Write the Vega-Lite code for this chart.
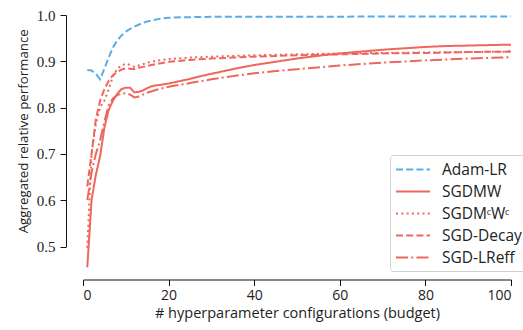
{
  "$schema": "https://vega.github.io/schema/vega-lite/v6.json",
  "width": 428,
  "height": 231.5,
  "autosize": {"type": "none"},
  "padding": {"left": 83, "top": 15, "right": 12, "bottom": 83.5},
  "background": "white",
  "datasets": {
    "curves": [
      {"method": "Adam-LR", "budget": 1, "perf": 0.881},
      {"method": "Adam-LR", "budget": 2, "perf": 0.880},
      {"method": "Adam-LR", "budget": 3, "perf": 0.873},
      {"method": "Adam-LR", "budget": 4, "perf": 0.861},
      {"method": "Adam-LR", "budget": 5, "perf": 0.884},
      {"method": "Adam-LR", "budget": 6, "perf": 0.908},
      {"method": "Adam-LR", "budget": 7, "perf": 0.930},
      {"method": "Adam-LR", "budget": 8, "perf": 0.945},
      {"method": "Adam-LR", "budget": 9, "perf": 0.956},
      {"method": "Adam-LR", "budget": 10, "perf": 0.964},
      {"method": "Adam-LR", "budget": 11, "perf": 0.970},
      {"method": "Adam-LR", "budget": 12, "perf": 0.975},
      {"method": "Adam-LR", "budget": 13, "perf": 0.979},
      {"method": "Adam-LR", "budget": 14, "perf": 0.983},
      {"method": "Adam-LR", "budget": 15, "perf": 0.986},
      {"method": "Adam-LR", "budget": 16, "perf": 0.988},
      {"method": "Adam-LR", "budget": 17, "perf": 0.990},
      {"method": "Adam-LR", "budget": 18, "perf": 0.992},
      {"method": "Adam-LR", "budget": 20, "perf": 0.994},
      {"method": "Adam-LR", "budget": 23, "perf": 0.995},
      {"method": "Adam-LR", "budget": 30, "perf": 0.996},
      {"method": "Adam-LR", "budget": 50, "perf": 0.996},
      {"method": "Adam-LR", "budget": 75, "perf": 0.997},
      {"method": "Adam-LR", "budget": 100, "perf": 0.997},

      {"method": "SGDMW", "budget": 1, "perf": 0.455},
      {"method": "SGDMW", "budget": 2, "perf": 0.600},
      {"method": "SGDMW", "budget": 3, "perf": 0.655},
      {"method": "SGDMW", "budget": 4, "perf": 0.695},
      {"method": "SGDMW", "budget": 5, "perf": 0.757},
      {"method": "SGDMW", "budget": 6, "perf": 0.795},
      {"method": "SGDMW", "budget": 7, "perf": 0.815},
      {"method": "SGDMW", "budget": 8, "perf": 0.830},
      {"method": "SGDMW", "budget": 9, "perf": 0.840},
      {"method": "SGDMW", "budget": 10, "perf": 0.843},
      {"method": "SGDMW", "budget": 11, "perf": 0.843},
      {"method": "SGDMW", "budget": 12, "perf": 0.833},
      {"method": "SGDMW", "budget": 13, "perf": 0.834},
      {"method": "SGDMW", "budget": 14, "perf": 0.837},
      {"method": "SGDMW", "budget": 15, "perf": 0.842},
      {"method": "SGDMW", "budget": 16, "perf": 0.846},
      {"method": "SGDMW", "budget": 17, "perf": 0.848},
      {"method": "SGDMW", "budget": 18, "perf": 0.849},
      {"method": "SGDMW", "budget": 20, "perf": 0.852},
      {"method": "SGDMW", "budget": 22, "perf": 0.856},
      {"method": "SGDMW", "budget": 25, "perf": 0.862},
      {"method": "SGDMW", "budget": 28, "perf": 0.869},
      {"method": "SGDMW", "budget": 32, "perf": 0.877},
      {"method": "SGDMW", "budget": 36, "perf": 0.885},
      {"method": "SGDMW", "budget": 40, "perf": 0.892},
      {"method": "SGDMW", "budget": 45, "perf": 0.899},
      {"method": "SGDMW", "budget": 50, "perf": 0.906},
      {"method": "SGDMW", "budget": 55, "perf": 0.912},
      {"method": "SGDMW", "budget": 60, "perf": 0.917},
      {"method": "SGDMW", "budget": 65, "perf": 0.921},
      {"method": "SGDMW", "budget": 70, "perf": 0.925},
      {"method": "SGDMW", "budget": 75, "perf": 0.928},
      {"method": "SGDMW", "budget": 80, "perf": 0.931},
      {"method": "SGDMW", "budget": 85, "perf": 0.933},
      {"method": "SGDMW", "budget": 90, "perf": 0.934},
      {"method": "SGDMW", "budget": 95, "perf": 0.935},
      {"method": "SGDMW", "budget": 100, "perf": 0.936},

      {"method": "SGDMᶜWᶜ", "budget": 1, "perf": 0.497},
      {"method": "SGDMᶜWᶜ", "budget": 2, "perf": 0.700},
      {"method": "SGDMᶜWᶜ", "budget": 3, "perf": 0.765},
      {"method": "SGDMᶜWᶜ", "budget": 4, "perf": 0.800},
      {"method": "SGDMᶜWᶜ", "budget": 5, "perf": 0.815},
      {"method": "SGDMᶜWᶜ", "budget": 6, "perf": 0.840},
      {"method": "SGDMᶜWᶜ", "budget": 7, "perf": 0.868},
      {"method": "SGDMᶜWᶜ", "budget": 8, "perf": 0.884},
      {"method": "SGDMᶜWᶜ", "budget": 9, "perf": 0.891},
      {"method": "SGDMᶜWᶜ", "budget": 10, "perf": 0.895},
      {"method": "SGDMᶜWᶜ", "budget": 11, "perf": 0.892},
      {"method": "SGDMᶜWᶜ", "budget": 12, "perf": 0.888},
      {"method": "SGDMᶜWᶜ", "budget": 13, "perf": 0.891},
      {"method": "SGDMᶜWᶜ", "budget": 14, "perf": 0.894},
      {"method": "SGDMᶜWᶜ", "budget": 15, "perf": 0.897},
      {"method": "SGDMᶜWᶜ", "budget": 17, "perf": 0.901},
      {"method": "SGDMᶜWᶜ", "budget": 20, "perf": 0.905},
      {"method": "SGDMᶜWᶜ", "budget": 25, "perf": 0.908},
      {"method": "SGDMᶜWᶜ", "budget": 30, "perf": 0.910},
      {"method": "SGDMᶜWᶜ", "budget": 40, "perf": 0.913},
      {"method": "SGDMᶜWᶜ", "budget": 50, "perf": 0.915},
      {"method": "SGDMᶜWᶜ", "budget": 60, "perf": 0.917},
      {"method": "SGDMᶜWᶜ", "budget": 70, "perf": 0.918},
      {"method": "SGDMᶜWᶜ", "budget": 80, "perf": 0.919},
      {"method": "SGDMᶜWᶜ", "budget": 90, "perf": 0.920},
      {"method": "SGDMᶜWᶜ", "budget": 100, "perf": 0.921},

      {"method": "SGD-Decay", "budget": 1, "perf": 0.630},
      {"method": "SGD-Decay", "budget": 2, "perf": 0.700},
      {"method": "SGD-Decay", "budget": 3, "perf": 0.775},
      {"method": "SGD-Decay", "budget": 4, "perf": 0.815},
      {"method": "SGD-Decay", "budget": 5, "perf": 0.840},
      {"method": "SGD-Decay", "budget": 6, "perf": 0.858},
      {"method": "SGD-Decay", "budget": 7, "perf": 0.870},
      {"method": "SGD-Decay", "budget": 8, "perf": 0.877},
      {"method": "SGD-Decay", "budget": 9, "perf": 0.882},
      {"method": "SGD-Decay", "budget": 10, "perf": 0.885},
      {"method": "SGD-Decay", "budget": 11, "perf": 0.884},
      {"method": "SGD-Decay", "budget": 12, "perf": 0.883},
      {"method": "SGD-Decay", "budget": 13, "perf": 0.886},
      {"method": "SGD-Decay", "budget": 14, "perf": 0.888},
      {"method": "SGD-Decay", "budget": 15, "perf": 0.890},
      {"method": "SGD-Decay", "budget": 17, "perf": 0.894},
      {"method": "SGD-Decay", "budget": 20, "perf": 0.899},
      {"method": "SGD-Decay", "budget": 25, "perf": 0.903},
      {"method": "SGD-Decay", "budget": 30, "perf": 0.906},
      {"method": "SGD-Decay", "budget": 35, "perf": 0.908},
      {"method": "SGD-Decay", "budget": 40, "perf": 0.910},
      {"method": "SGD-Decay", "budget": 50, "perf": 0.913},
      {"method": "SGD-Decay", "budget": 60, "perf": 0.915},
      {"method": "SGD-Decay", "budget": 70, "perf": 0.917},
      {"method": "SGD-Decay", "budget": 80, "perf": 0.918},
      {"method": "SGD-Decay", "budget": 90, "perf": 0.920},
      {"method": "SGD-Decay", "budget": 100, "perf": 0.921},

      {"method": "SGD-LReff", "budget": 1, "perf": 0.600},
      {"method": "SGD-LReff", "budget": 2, "perf": 0.660},
      {"method": "SGD-LReff", "budget": 3, "perf": 0.700},
      {"method": "SGD-LReff", "budget": 4, "perf": 0.730},
      {"method": "SGD-LReff", "budget": 5, "perf": 0.770},
      {"method": "SGD-LReff", "budget": 6, "perf": 0.805},
      {"method": "SGD-LReff", "budget": 7, "perf": 0.820},
      {"method": "SGD-LReff", "budget": 8, "perf": 0.827},
      {"method": "SGD-LReff", "budget": 9, "perf": 0.830},
      {"method": "SGD-LReff", "budget": 10, "perf": 0.831},
      {"method": "SGD-LReff", "budget": 11, "perf": 0.828},
      {"method": "SGD-LReff", "budget": 12, "perf": 0.822},
      {"method": "SGD-LReff", "budget": 13, "perf": 0.824},
      {"method": "SGD-LReff", "budget": 14, "perf": 0.828},
      {"method": "SGD-LReff", "budget": 15, "perf": 0.832},
      {"method": "SGD-LReff", "budget": 17, "perf": 0.838},
      {"method": "SGD-LReff", "budget": 20, "perf": 0.845},
      {"method": "SGD-LReff", "budget": 25, "perf": 0.853},
      {"method": "SGD-LReff", "budget": 30, "perf": 0.861},
      {"method": "SGD-LReff", "budget": 35, "perf": 0.868},
      {"method": "SGD-LReff", "budget": 40, "perf": 0.874},
      {"method": "SGD-LReff", "budget": 45, "perf": 0.879},
      {"method": "SGD-LReff", "budget": 50, "perf": 0.883},
      {"method": "SGD-LReff", "budget": 60, "perf": 0.891},
      {"method": "SGD-LReff", "budget": 70, "perf": 0.897},
      {"method": "SGD-LReff", "budget": 80, "perf": 0.902},
      {"method": "SGD-LReff", "budget": 90, "perf": 0.906},
      {"method": "SGD-LReff", "budget": 100, "perf": 0.909}
    ]
  },
  "data": {"name": "curves"},
  "mark": {"type": "line", "strokeWidth": 2, "clip": false},
  "encoding": {
    "x": {
      "field": "budget",
      "type": "quantitative",
      "scale": {"domain": [0, 100], "nice": false, "zero": false},
      "axis": {
        "title": "# hyperparameter configurations (budget)",
        "values": [0, 20, 40, 60, 80, 100],
        "offset": 33,
        "labelFont": "Open Sans",
        "labelFontSize": 14,
        "labelPadding": 3,
        "titlePadding": 4,
        "titleFontSize": 14.5
      }
    },
    "y": {
      "field": "perf",
      "type": "quantitative",
      "scale": {"domain": [0.5, 1.0], "nice": false, "zero": false},
      "axis": {
        "title": "Aggregated relative performance",
        "values": [0.5, 0.6, 0.7, 0.8, 0.9, 1.0],
        "format": ".1f",
        "offset": 17,
        "labelFont": "Liberation Serif",
        "labelFontSize": 15,
        "labelPadding": 5,
        "titlePadding": 6,
        "titleFontSize": 13.3
      }
    },
    "color": {
      "field": "method",
      "type": "nominal",
      "scale": {
        "domain": ["Adam-LR", "SGDMW", "SGDMᶜWᶜ", "SGD-Decay", "SGD-LReff"],
        "range": ["#5AADE4", "#EE675C", "#EE675C", "#EE675C", "#EE675C"]
      },
      "legend": {"title": null}
    },
    "strokeDash": {
      "field": "method",
      "type": "nominal",
      "scale": {
        "domain": ["Adam-LR", "SGDMW", "SGDMᶜWᶜ", "SGD-Decay", "SGD-LReff"],
        "range": [[7, 3.2], [1, 0], [2, 3.3], [7, 3.2], [12, 3.2, 2, 3.2]]
      },
      "legend": {"title": null}
    }
  },
  "config": {
    "view": {"stroke": null},
    "axis": {
      "grid": false,
      "domainColor": "#111",
      "tickColor": "#111",
      "domainWidth": 1,
      "tickWidth": 1,
      "tickSize": 6,
      "labelColor": "#222",
      "titleColor": "#222",
      "titleFont": "Open Sans",
      "titleFontSize": 14,
      "titleFontWeight": "normal"
    },
    "legend": {
      "orient": "none",
      "legendX": 307,
      "legendY": 140,
      "padding": 5,
      "strokeColor": "#d0d0d0",
      "fillColor": "white",
      "cornerRadius": 3,
      "symbolType": "M-1,0H3",
      "symbolSize": 289,
      "symbolStrokeWidth": 2,
      "labelFont": "Open Sans",
      "labelFontSize": 15.5,
      "labelColor": "#222",
      "labelOffset": 28,
      "rowPadding": 4
    }
  }
}
